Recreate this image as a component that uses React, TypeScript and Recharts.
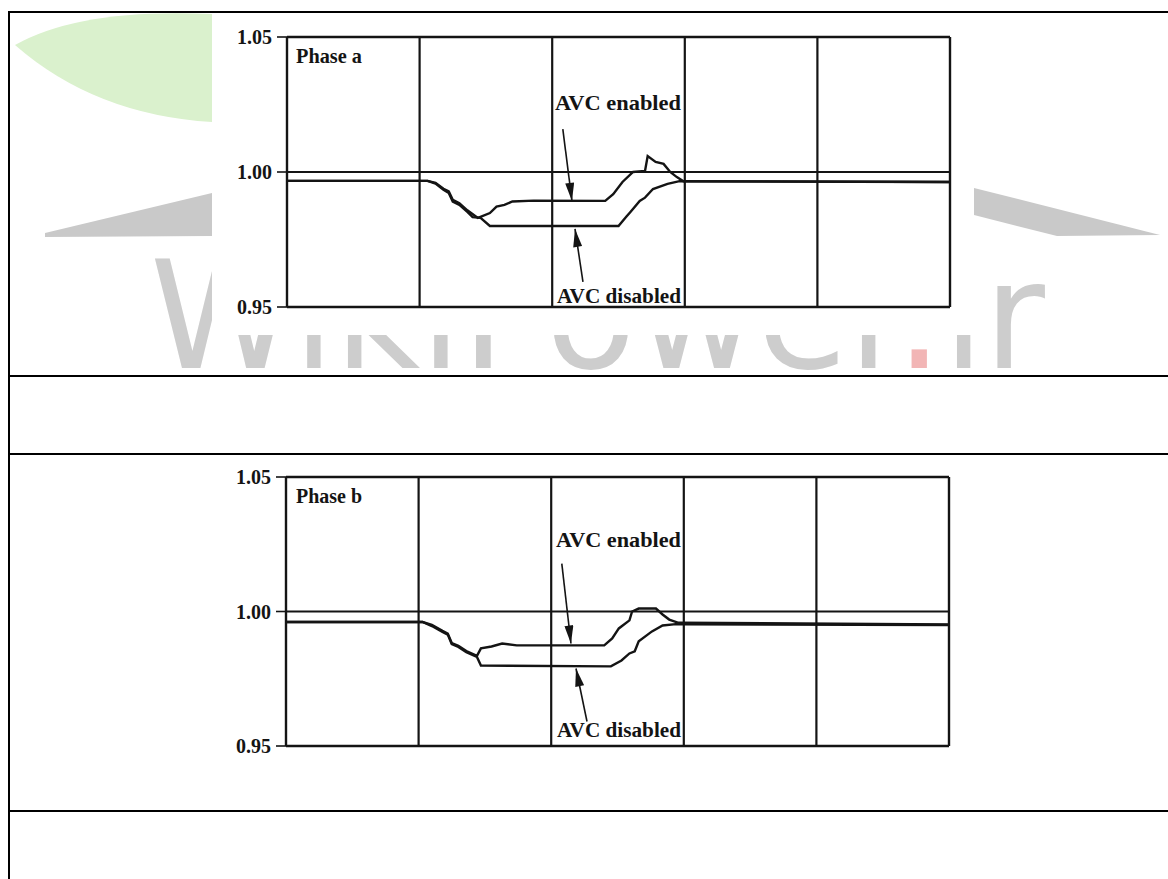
import React from "react";
import { LineChart, Line, XAxis, YAxis, ReferenceLine } from "recharts";

// time axis is split into 5 equal grid divisions (no tick labels in the figure)
const gridTimes = [1, 2, 3, 4];
const voltTicks = [0.95, 1.0, 1.05];

// Phase a
const phaseAEnabledT = [0, 1.06, 1.12, 1.18, 1.22, 1.25, 1.3, 1.36, 1.44, 1.53, 1.58, 1.64, 1.7, 1.86, 2.4, 2.46, 2.53, 2.61, 2.7, 2.72, 2.78, 2.84, 2.89, 2.94, 2.99, 5];
const phaseAEnabledV = [0.9967, 0.9967, 0.996, 0.9938, 0.9928, 0.9897, 0.9884, 0.9858, 0.983, 0.9848, 0.9872, 0.9878, 0.9891, 0.9894, 0.9893, 0.9918, 0.9963, 1.0, 1.0004, 1.0059, 1.0037, 1.003, 1.0, 0.9981, 0.9966, 0.9963];
const phaseADisabledT = [0, 1.06, 1.12, 1.18, 1.22, 1.25, 1.3, 1.36, 1.4, 1.46, 1.53, 2.5, 2.56, 2.59, 2.66, 2.7, 2.76, 2.87, 2.96, 5];
const phaseADisabledV = [0.9967, 0.9967, 0.9957, 0.9934, 0.9922, 0.989, 0.9878, 0.9852, 0.9833, 0.983, 0.98, 0.98, 0.9835, 0.9852, 0.9893, 0.9905, 0.9937, 0.9956, 0.9966, 0.9963];

// Phase b
const phaseBEnabledT = [0, 1.03, 1.1, 1.18, 1.22, 1.25, 1.3, 1.36, 1.44, 1.47, 1.55, 1.63, 1.74, 2.4, 2.46, 2.51, 2.59, 2.61, 2.66, 2.79, 2.84, 2.89, 2.96, 5];
const phaseBEnabledV = [0.9961, 0.9961, 0.995, 0.9928, 0.9918, 0.9883, 0.9872, 0.9853, 0.9835, 0.9863, 0.987, 0.9881, 0.9874, 0.9874, 0.99, 0.9937, 0.9967, 1.0, 1.0011, 1.0011, 0.9989, 0.997, 0.9958, 0.9952];
const phaseBDisabledT = [0, 1.03, 1.1, 1.18, 1.22, 1.25, 1.3, 1.36, 1.44, 1.47, 2.45, 2.53, 2.59, 2.63, 2.66, 2.76, 2.84, 2.94, 2.99, 5];
const phaseBDisabledV = [0.9961, 0.9961, 0.9946, 0.9924, 0.9914, 0.9879, 0.9868, 0.9849, 0.9831, 0.9799, 0.9796, 0.9818, 0.9844, 0.9852, 0.9889, 0.9926, 0.9948, 0.9953, 0.9952, 0.995];

// annotation arrows, in data coordinates: [tailT, tailV, tipT, tipV]
const phaseAArrows = [
  [2.08, 1.0159, 2.149, 0.9893],
  [2.232, 0.9593, 2.172, 0.9789],
];
const phaseBArrows = [
  [2.08, 1.0178, 2.149, 0.9881],
  [2.27, 0.9591, 2.187, 0.9788],
];

const zip = (t: number[], v: number[]) => t.map((x, i) => ({ t: x, v: v[i] }));

const INK = "#141414";
const SERIF = "'Liberation Serif', 'DejaVu Serif', serif";

interface PanelProps {
  left: number;
  top: number;
  padTop: number;
  padBottom: number;
  enabled: { t: number; v: number }[];
  disabled: { t: number; v: number }[];
  arrows: number[][];
}

function PhasePanel({ left, top, padTop, padBottom, enabled, disabled, arrows }: PanelProps) {
  return (
    <div style={{ position: "absolute", left, top, width: 762, height: 322, background: "#fff", zIndex: 1 }}>
      <LineChart width={762} height={322} margin={{ top: padTop, right: 24, bottom: padBottom, left: 0 }}>
        <XAxis type="number" dataKey="t" domain={[0, 5]} hide allowDataOverflow />
        <YAxis
          type="number"
          domain={[0.95, 1.05]}
          ticks={voltTicks}
          width={75}
          allowDataOverflow
          tickFormatter={(v: number) => v.toFixed(2)}
          axisLine={{ stroke: INK, strokeWidth: 2.4 }}
          tickLine={{ stroke: INK, strokeWidth: 1.6 }}
          tickSize={10}
          tickMargin={5}
          tick={{ fill: INK, fontSize: 20, fontFamily: SERIF, fontWeight: 700 }}
        />
        <ReferenceLine y={1.05} stroke={INK} strokeWidth={2.4} />
        <ReferenceLine y={0.95} stroke={INK} strokeWidth={2.4} />
        <ReferenceLine x={5} stroke={INK} strokeWidth={2.4} />
        {gridTimes.map((g) => (
          <ReferenceLine key={g} x={g} stroke={INK} strokeWidth={2.2} />
        ))}
        <ReferenceLine y={1.0} stroke={INK} strokeWidth={1.8} />
        {arrows.map((a, i) => (
          <ReferenceLine
            key={`arr-${i}`}
            segment={[{ x: a[0], y: a[1] }, { x: a[2], y: a[3] }]}
            stroke={INK}
            strokeWidth={1.6}
            markerEnd="url(#arrowHead)"
            ifOverflow="visible"
          />
        ))}
        <Line data={disabled} dataKey="v" type="linear" stroke={INK} strokeWidth={2.4} dot={false} isAnimationActive={false} />
        <Line data={enabled} dataKey="v" type="linear" stroke={INK} strokeWidth={2.4} dot={false} isAnimationActive={false} />
      </LineChart>
    </div>
  );
}

function Caption({ x, y, w, children }: { x: number; y: number; w: number; children: string }) {
  return (
    <text x={x} y={y} fontFamily={SERIF} fontWeight={700} fontSize={21} fill={INK} textLength={w} lengthAdjust="spacingAndGlyphs">
      {children}
    </text>
  );
}

export default function App() {
  const aEnabled = zip(phaseAEnabledT, phaseAEnabledV);
  const aDisabled = zip(phaseADisabledT, phaseADisabledV);
  const bEnabled = zip(phaseBEnabledT, phaseBEnabledV);
  const bDisabled = zip(phaseBDisabledT, phaseBDisabledV);

  return (
    <div style={{ position: "absolute", left: 0, top: 0, width: 1168, height: 879, background: "#fff", overflow: "hidden" }}>
      {/* watermark, sits behind the scanned figure */}
      <svg width={1168} height={879} style={{ position: "absolute", left: 0, top: 0, zIndex: 0 }}>
        <path d="M15,45 Q80,8 212,14 L212,122 Q95,115 15,45 Z" fill="#daf1cd" />
        <polygon points="45,233 212,193 212,236 45,237" fill="#c9c9c9" />
        <polygon points="974,188 1160,235 1057,236 974,215" fill="#c9c9c9" />
        <text x={150} y={368} fontSize={150} fontFamily="'DejaVu Sans', sans-serif" fill="#cdcdcd" textLength={895} lengthAdjust="spacingAndGlyphs">
          WikiPower<tspan fill="#f2b5b5">.</tspan>ir
        </text>
      </svg>

      {/* table rules */}
      <div style={{ position: "absolute", left: 8, top: 11, width: 2, height: 868, background: "#000", zIndex: 2 }} />
      {[11, 375, 453, 810].map((y) => (
        <div key={y} style={{ position: "absolute", left: 8, top: y, width: 1160, height: 2, background: "#000", zIndex: 2 }} />
      ))}

      <PhasePanel left={212} top={13} padTop={24} padBottom={28} enabled={aEnabled} disabled={aDisabled} arrows={phaseAArrows} />
      <PhasePanel left={211} top={455} padTop={22} padBottom={31} enabled={bEnabled} disabled={bDisabled} arrows={phaseBArrows} />

      {/* captions and arrow marker */}
      <svg width={1168} height={879} style={{ position: "absolute", left: 0, top: 0, pointerEvents: "none", zIndex: 3 }}>
        <defs>
          <marker id="arrowHead" viewBox="0 0 20 10" refX={20} refY={5} markerWidth={19} markerHeight={9} markerUnits="userSpaceOnUse" orient="auto">
            <path d="M0,0 L20,5 L0,10 Z" fill={INK} />
          </marker>
        </defs>
        <Caption x={296} y={63} w={66}>Phase a</Caption>
        <Caption x={555} y={110} w={126}>AVC enabled</Caption>
        <Caption x={557} y={303} w={124}>AVC disabled</Caption>
        <Caption x={296} y={503} w={66}>Phase b</Caption>
        <Caption x={556} y={547} w={125}>AVC enabled</Caption>
        <Caption x={557} y={737} w={124}>AVC disabled</Caption>
      </svg>
    </div>
  );
}
